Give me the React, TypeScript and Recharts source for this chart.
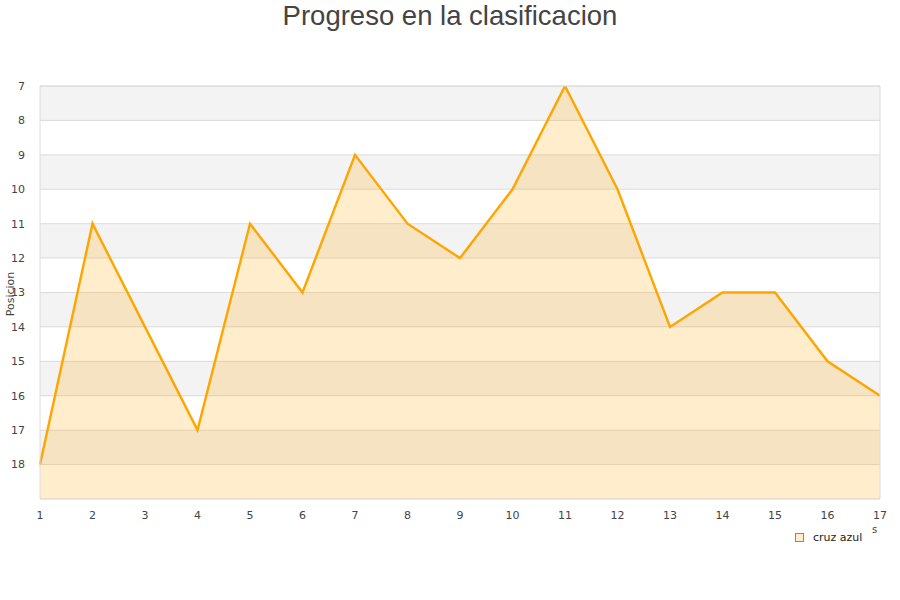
import React from 'react';
import { ComposedChart, Area, XAxis, YAxis, CartesianGrid, ReferenceArea } from 'recharts';

const jornadas = [1, 2, 3, 4, 5, 6, 7, 8, 9, 10, 11, 12, 13, 14, 15, 16, 17];
const posiciones = [18, 11, 14, 17, 11, 13, 9, 11, 12, 10, 7, 10, 14, 13, 13, 15, 16];
const yTicks = [7, 8, 9, 10, 11, 12, 13, 14, 15, 16, 17, 18];
const bandas = [[7, 8], [9, 10], [11, 12], [13, 14], [15, 16], [17, 18]];
const seriesName = 'cruz azul';

const data = jornadas.map((j, i) => ({ j, pos: posiciones[i] }));

const tickStyle = { fontSize: 11, fill: '#444', fontFamily: 'DejaVu Sans' };

export default function App() {
  return (
    <div style={{ position: 'absolute', left: 0, top: 0, width: 900, height: 600, background: '#fff' }}>
      <div style={{ position: 'absolute', left: 0, top: 0, width: 900, textAlign: 'center', fontFamily: 'Liberation Sans, Arial', fontSize: 27.5, color: '#444', lineHeight: '32px' }}>
        Progreso en la clasificacion
      </div>
      <ComposedChart width={900} height={600} data={data} margin={{ top: 86, right: 20, bottom: 71, left: 0 }}>
        <CartesianGrid vertical={false} stroke="#e2e2e2" />
        {bandas.map(([a, b]) => (
          <ReferenceArea key={a} x1={1} x2={17} y1={a} y2={b} fill="#000" fillOpacity={0.047} stroke="none" />
        ))}
        <XAxis
          dataKey="j"
          type="number"
          domain={[1, 17]}
          ticks={jornadas}
          tick={tickStyle}
          tickLine={false}
          axisLine={false}
          height={30}
          tickMargin={6}
          interval={0}
        />
        <YAxis
          type="number"
          domain={[7, 19]}
          ticks={yTicks}
          reversed
          tick={tickStyle}
          tickLine={false}
          axisLine={false}
          width={40}
          tickMargin={9}
          interval={0}
          allowDataOverflow
        />
        <Area
          type="linear"
          dataKey="pos"
          name={seriesName}
          baseValue="dataMax"
          stroke="#ffa500"
          strokeWidth={2.4}
          fill="#ffa500"
          fillOpacity={0.2}
          dot={false}
          activeDot={false}
          isAnimationActive={false}
        />
        <ReferenceArea x1={1} x2={17} y1={7} y2={19} fill="none" stroke="#dcdcdc" strokeWidth={1} />
      </ComposedChart>
      <div style={{ position: 'absolute', left: 0, top: 294, width: 0, height: 0 }}>
        <div style={{ position: 'absolute', left: 10, top: 0, transform: 'translate(-50%, -50%) rotate(-90deg)', fontFamily: 'DejaVu Sans', fontSize: 11, color: '#444', whiteSpace: 'nowrap' }}>
          Posicion
        </div>
      </div>
      <div style={{ position: 'absolute', left: 872, top: 524, fontFamily: 'DejaVu Sans', fontSize: 10, color: '#444' }}>s</div>
      <div style={{ position: 'absolute', left: 795, top: 531, display: 'flex', alignItems: 'center', fontFamily: 'DejaVu Sans', fontSize: 11, color: '#222' }}>
        <div style={{ width: 7, height: 7, border: '1px solid #888', background: '#ffedcc', marginRight: 9 }} />
        <span>{seriesName}</span>
      </div>
    </div>
  );
}
